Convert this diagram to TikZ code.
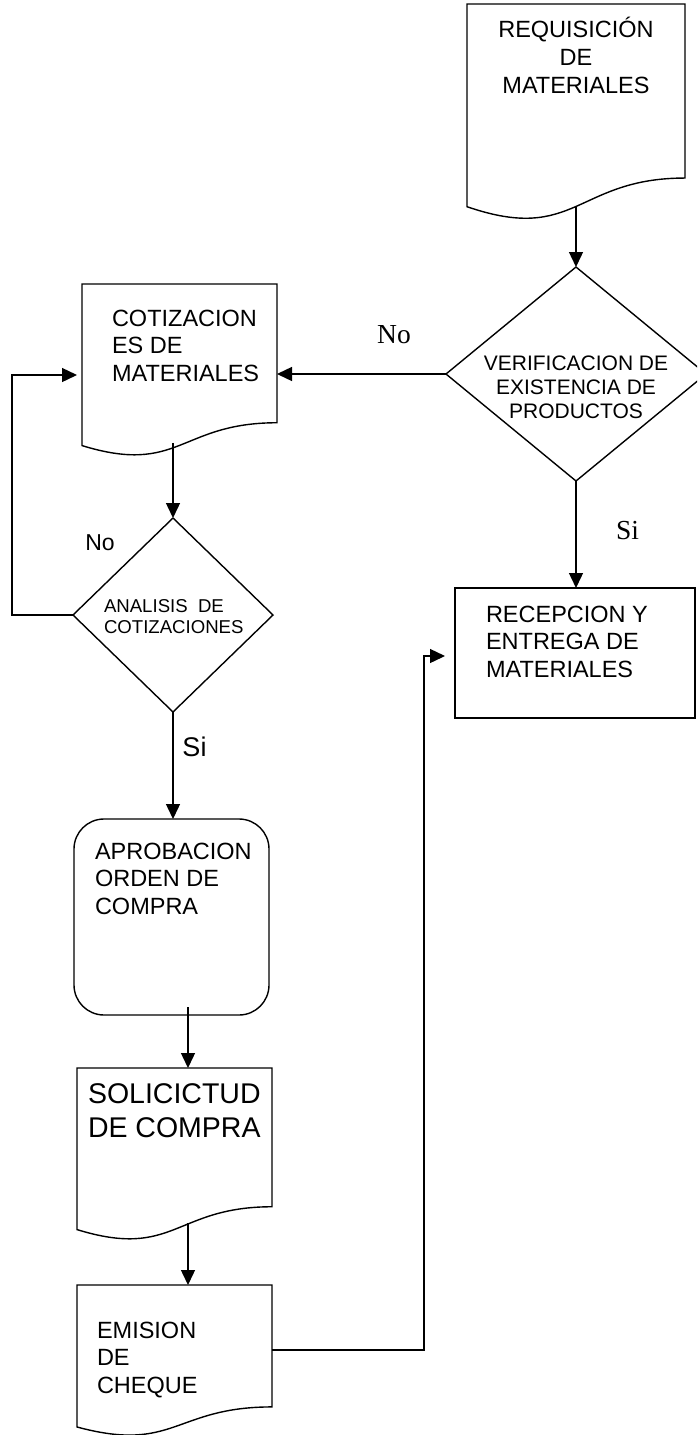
\documentclass[tikz,border=0pt]{standalone}
\usepackage{fontspec}
\setmainfont{Liberation Sans}
\newfontfamily\timesfont{Liberation Serif}
\usetikzlibrary{calc,arrows.meta}

\tikzset{
  x=1pt, y=-1pt,
  flow/.style={line width=1.4pt, line join=miter},
  arr/.style={flow, -{Triangle[length=15pt,width=14pt]}},
  frame/.style={rectangle, draw=none, inner sep=0pt, outer sep=0pt},
  txt/.style={inner sep=0pt, outer sep=0pt, anchor=base},
  txtl/.style={inner sep=0pt, outer sep=0pt, anchor=base west},
}

% outline of a flowchart "document" symbol drawn on a frame node
\newcommand\docoutline[1]{%
  \draw[flow] (#1.north west) -- (#1.north east)
    -- ($(#1.north east)!0.802!(#1.south east)$)
    .. controls ($(#1.north)!0.802!(#1.south)$) and ($(#1.north)!1.1075!(#1.south)$)
    .. ($(#1.north west)!0.934!(#1.south west)$) -- cycle;}
% outline of a decision diamond drawn on a frame node
\newcommand\diamondoutline[1]{%
  \draw[flow] (#1.north) -- (#1.east) -- (#1.south) -- (#1.west) -- cycle;}

\begin{document}
\begin{tikzpicture}
\useasboundingbox (0,0) rectangle (697,1435);
\clip (0,0) rectangle (697,1435);

% ---- shapes ----
\node[frame, minimum width=218pt, minimum height=217pt] (req) at (576,112.5) {};
\docoutline{req}

\node[frame, minimum width=260pt, minimum height=214pt] (ver) at (576,374) {};
\diamondoutline{ver}

\node[frame, minimum width=195pt, minimum height=173pt] (cot) at (179.5,370.5) {};
\docoutline{cot}

\node[frame, minimum width=200pt, minimum height=194pt] (ana) at (173,615) {};
\diamondoutline{ana}

\node[frame, draw, flow, minimum width=240pt, minimum height=130pt] (rec) at (575,653) {};

\node[frame, draw, flow, rounded corners=30pt, minimum width=195pt, minimum height=196pt] (apr) at (171.5,917) {};

\node[frame, minimum width=195pt, minimum height=173pt] (sol) at (174.5,1154.5) {};
\docoutline{sol}

\node[frame, minimum width=195pt, minimum height=152pt] (emi) at (174.5,1361) {};
\docoutline{emi}

% ---- texts ----
\node[txt] (reqt) at (576,37) {\parbox[t]{218pt}{\centering\fontsize{23.5pt}{28pt}\selectfont REQUISICIÓN\\DE\\MATERIALES}};
\node[txt] (vert) at (576,370) {\parbox[t]{240pt}{\centering\fontsize{21pt}{24pt}\selectfont VERIFICACION DE\\EXISTENCIA DE\\PRODUCTOS}};
\node[txtl] (cott) at (112,326) {\parbox[t]{200pt}{\raggedright\fontsize{23.5pt}{27.5pt}\selectfont COTIZACION\\ES DE\\MATERIALES}};
\node[txtl] (anat) at (104,612) {\parbox[t]{200pt}{\raggedright\fontsize{18.6pt}{21pt}\selectfont ANALISIS\ \ DE\\COTIZACIONES}};
\node[txtl] (rect) at (486,622) {\parbox[t]{220pt}{\raggedright\fontsize{23.5pt}{27.5pt}\selectfont RECEPCION Y\\ENTREGA DE\\MATERIALES}};
\node[txtl] (aprt) at (95,859) {\parbox[t]{200pt}{\raggedright\fontsize{23.5pt}{27.5pt}\selectfont APROBACION\\ORDEN DE\\COMPRA}};
\node[txtl] (solt) at (88,1103) {\parbox[t]{200pt}{\raggedright\fontsize{28.5pt}{34pt}\selectfont SOLICICTUD\\DE COMPRA}};
\node[txtl] (emit) at (97,1338) {\parbox[t]{200pt}{\raggedright\fontsize{23.5pt}{27.5pt}\selectfont EMISION\\DE\\CHEQUE}};

% ---- branch labels ----
\node[txt] (no1) at (394,343) {\timesfont\fontsize{27.5pt}{30pt}\selectfont No};
\node[txt] (si1) at (627.5,539) {\timesfont\fontsize{27.5pt}{30pt}\selectfont Si};
\node[txt] (no2) at (100,550) {\fontsize{23pt}{26pt}\selectfont No};
\node[txt] (si2) at (194.5,756) {\fontsize{27pt}{30pt}\selectfont Si};

% ---- connection points ----
\coordinate (reqout) at ($(req.north)!0.935!(req.south)$);
\coordinate (cotout) at ($(cot.north)!0.918!(cot.south)$);
\coordinate (loop) at (12,375);
\coordinate (aprout) at (188,1007);
\coordinate (solout) at (188,1223);
\coordinate (jog) at (424,656);

% ---- connectors ----
\draw[arr] (reqout) -- (ver.north);
\draw[arr] (ver.west) -- (ver.west -| cot.east);
\draw[arr] (ver.south) -- (ver.south |- rec.north);
\draw[arr] (cotout -| ana.north) -- (ana.north);
\draw[arr, shorten >=5pt] (ana.west) -| (loop) -- (loop -| cot.west);
\draw[arr] (ana.south) -- (apr.north -| ana.south);
\draw[arr] (aprout) -- (aprout |- sol.north);
\draw[arr] (solout) -- (solout |- emi.north);
\draw[arr, shorten >=10pt] ($(emi.east)+(0,-11)$) -| (jog) -- (jog -| rec.west);

\end{tikzpicture}
\end{document}
